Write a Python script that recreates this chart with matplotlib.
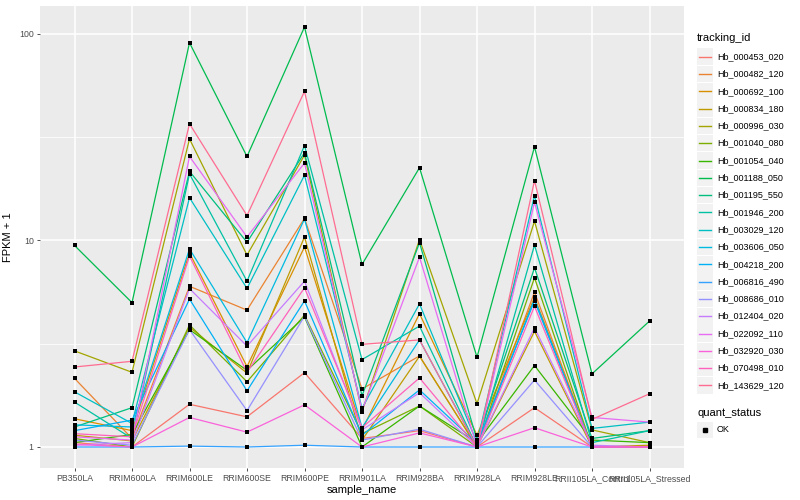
import numpy as np
import matplotlib
matplotlib.use("Agg")
import matplotlib.pyplot as plt
from matplotlib.lines import Line2D

plt.rcParams["font.family"] = ["Liberation Sans", "DejaVu Sans"]

# ---- data -------------------------------------------------------------------
samples = ["PB350LA", "RRIM600LA", "RRIM600LE", "RRIM600SE", "RRIM600PE",
           "RRIM901LA", "RRIM928BA", "RRIM928LA", "RRIM928LE",
           "RRII105LA_Control", "RRII105LA_Stressed"]

tracking_ids = ["Hb_000453_020", "Hb_000482_120", "Hb_000692_100", "Hb_000834_180",
                "Hb_000996_030", "Hb_001040_080", "Hb_001054_040", "Hb_001188_050",
                "Hb_001195_550", "Hb_001946_200", "Hb_003029_120", "Hb_003606_050",
                "Hb_004218_200", "Hb_006816_490", "Hb_008686_010", "Hb_012404_020",
                "Hb_022092_110", "Hb_032920_030", "Hb_070498_010", "Hb_143629_120"]

# FPKM + 1, one row per tracking_id, one column per sample
fpkm = [
    [1.05, 1.00, 1.61, 1.40, 2.29, 1.10, 1.20, 1.00, 1.55, 1.00, 1.00],
    [2.15, 1.10, 6.00, 4.60, 12.8, 1.91, 2.76, 1.00, 5.62, 1.00, 1.00],
    [1.37, 1.20, 8.70, 2.45, 9.30, 1.21, 4.42, 1.14, 5.30, 1.00, 1.00],
    [1.14, 1.07, 3.80, 2.28, 10.4, 1.08, 2.75, 1.00, 3.63, 1.00, 1.02],
    [2.92, 2.30, 31.0, 8.50, 25.9, 1.48, 10.1, 1.62, 12.4, 1.21, 1.05],
    [1.10, 1.00, 3.90, 2.07, 4.35, 1.16, 1.58, 1.00, 6.60, 1.00, 1.00],
    [1.05, 1.15, 3.70, 2.35, 4.26, 1.00, 1.58, 1.05, 2.48, 1.08, 1.05],
    [9.46, 5.00, 90.6, 25.5, 108., 7.65, 22.5, 2.72, 28.4, 2.26, 4.07],
    [1.25, 1.55, 21.6, 9.80, 26.6, 1.77, 9.75, 1.08, 7.37, 1.10, 1.20],
    [1.65, 1.10, 21.0, 6.35, 28.8, 2.65, 3.85, 1.00, 9.50, 1.05, 1.20],
    [1.85, 1.30, 16.1, 5.86, 20.7, 1.54, 4.93, 1.05, 16.5, 1.23, 1.32],
    [1.28, 1.25, 9.10, 3.20, 12.7, 1.24, 3.30, 1.00, 5.20, 1.00, 1.00],
    [1.20, 1.35, 5.20, 1.87, 5.10, 1.14, 1.89, 1.04, 5.10, 1.00, 1.00],
    [1.00, 1.00, 1.01, 1.00, 1.02, 1.00, 1.00, 1.00, 1.00, 1.00, 1.00],
    [1.08, 1.02, 3.70, 1.50, 4.30, 1.08, 1.22, 1.00, 2.11, 1.00, 1.00],
    [1.02, 1.05, 5.85, 3.08, 6.35, 1.21, 1.83, 1.00, 3.78, 1.02, 1.00],
    [1.12, 1.08, 25.5, 10.4, 23.7, 1.50, 8.30, 1.00, 15.3, 1.39, 1.32],
    [1.03, 1.00, 1.39, 1.18, 1.60, 1.00, 1.17, 1.00, 1.24, 1.00, 1.00],
    [1.16, 1.12, 8.40, 2.30, 5.90, 1.24, 2.16, 1.00, 4.80, 1.00, 1.00],
    [2.44, 2.60, 36.7, 13.2, 52.7, 3.14, 3.30, 1.00, 19.5, 1.36, 1.81],
]

quant_status = ["OK"]

# ggplot2 default hue palette for 20 levels
COLORS = ["#F8766D", "#EA8331", "#D89000", "#C09B00", "#A3A500", "#7CAE00",
          "#39B600", "#00BB4E", "#00BF7D", "#00C1A3", "#00BFC4", "#00BAE0",
          "#00B0F6", "#35A2FF", "#9590FF", "#C77CFF", "#E76BF3", "#FA62DB",
          "#FF62BC", "#FF6C91"]

PANEL_BG = "#EBEBEB"
TXT_GRAY = "#4D4D4D"

# ---- figure -----------------------------------------------------------------
fig = plt.figure(figsize=(8, 5), dpi=100)
ax = fig.add_axes([0.05, 0.064, 0.805, 0.924])
ax.set_facecolor(PANEL_BG)

x = np.arange(len(samples))
for i, tid in enumerate(tracking_ids):
    ax.plot(x, fpkm[i], color=COLORS[i], lw=0.9, zorder=3)
for i in range(len(tracking_ids)):
    ax.scatter(x, fpkm[i], marker="s", s=10, color="black", zorder=4, linewidths=0)

ax.set_yscale("log")
vals = np.log10(np.array(fpkm))
lo, hi = vals.min(), vals.max()
pad = (hi - lo) * 0.05
ax.set_ylim(10 ** (lo - pad), 10 ** (hi + pad))
ax.set_xlim(-0.6, len(samples) - 0.4)

ax.set_yticks([1, 10, 100])
ax.set_yticklabels(["1", "10", "100"])
ax.set_yticks([10 ** 0.5, 10 ** 1.5], minor=True)
ax.yaxis.set_minor_formatter(matplotlib.ticker.NullFormatter())
ax.set_xticks(x)
ax.set_xticklabels(samples)

ax.grid(which="major", color="white", lw=1.1, zorder=0)
ax.grid(which="minor", axis="y", color="white", lw=0.55, zorder=0)
ax.set_axisbelow(True)
for s in ax.spines.values():
    s.set_visible(False)
ax.tick_params(axis="both", which="major", length=2.5, width=0.6, color="#333333",
               labelsize=6.3, labelcolor=TXT_GRAY, pad=2)
ax.tick_params(axis="y", which="minor", length=0)

ax.set_xlabel("sample_name", fontsize=8, labelpad=1)
ax.set_ylabel("FPKM + 1", fontsize=8, labelpad=4)

# ---- legend (drawn by hand, ggplot style) -----------------------------------
def px(xp, yp):
    return xp / 800, 1 - yp / 500

fig.text(*px(697, 38), "tracking_id", fontsize=8, va="center", ha="left")
for i, tid in enumerate(tracking_ids):
    yc = 56.7 + i * 17.3
    fig.patches.append(plt.Rectangle(px(697, yc + 8.3), 16 / 800, 16.6 / 500,
                                     transform=fig.transFigure,
                                     facecolor="#F2F2F2", edgecolor="none"))
    fig.lines.append(Line2D([699 / 800, 711 / 800], [1 - yc / 500] * 2,
                            transform=fig.transFigure, color=COLORS[i], lw=1.0))
    fig.text(*px(717, yc), tid, fontsize=6.5, va="center", ha="left")

fig.text(*px(697, 413), "quant_status", fontsize=8, va="center", ha="left")
for j, qs in enumerate(quant_status):
    yc = 430 + j * 17.3
    fig.patches.append(plt.Rectangle(px(697, yc + 8.3), 16 / 800, 16.6 / 500,
                                     transform=fig.transFigure,
                                     facecolor="#F2F2F2", edgecolor="none"))
    fig.lines.append(Line2D([705 / 800], [1 - yc / 500], transform=fig.transFigure,
                            marker="s", ms=2.6, color="black", lw=0))
    fig.text(*px(717, yc), qs, fontsize=6.5, va="center", ha="left")

fig.savefig("out.png", dpi=100)
